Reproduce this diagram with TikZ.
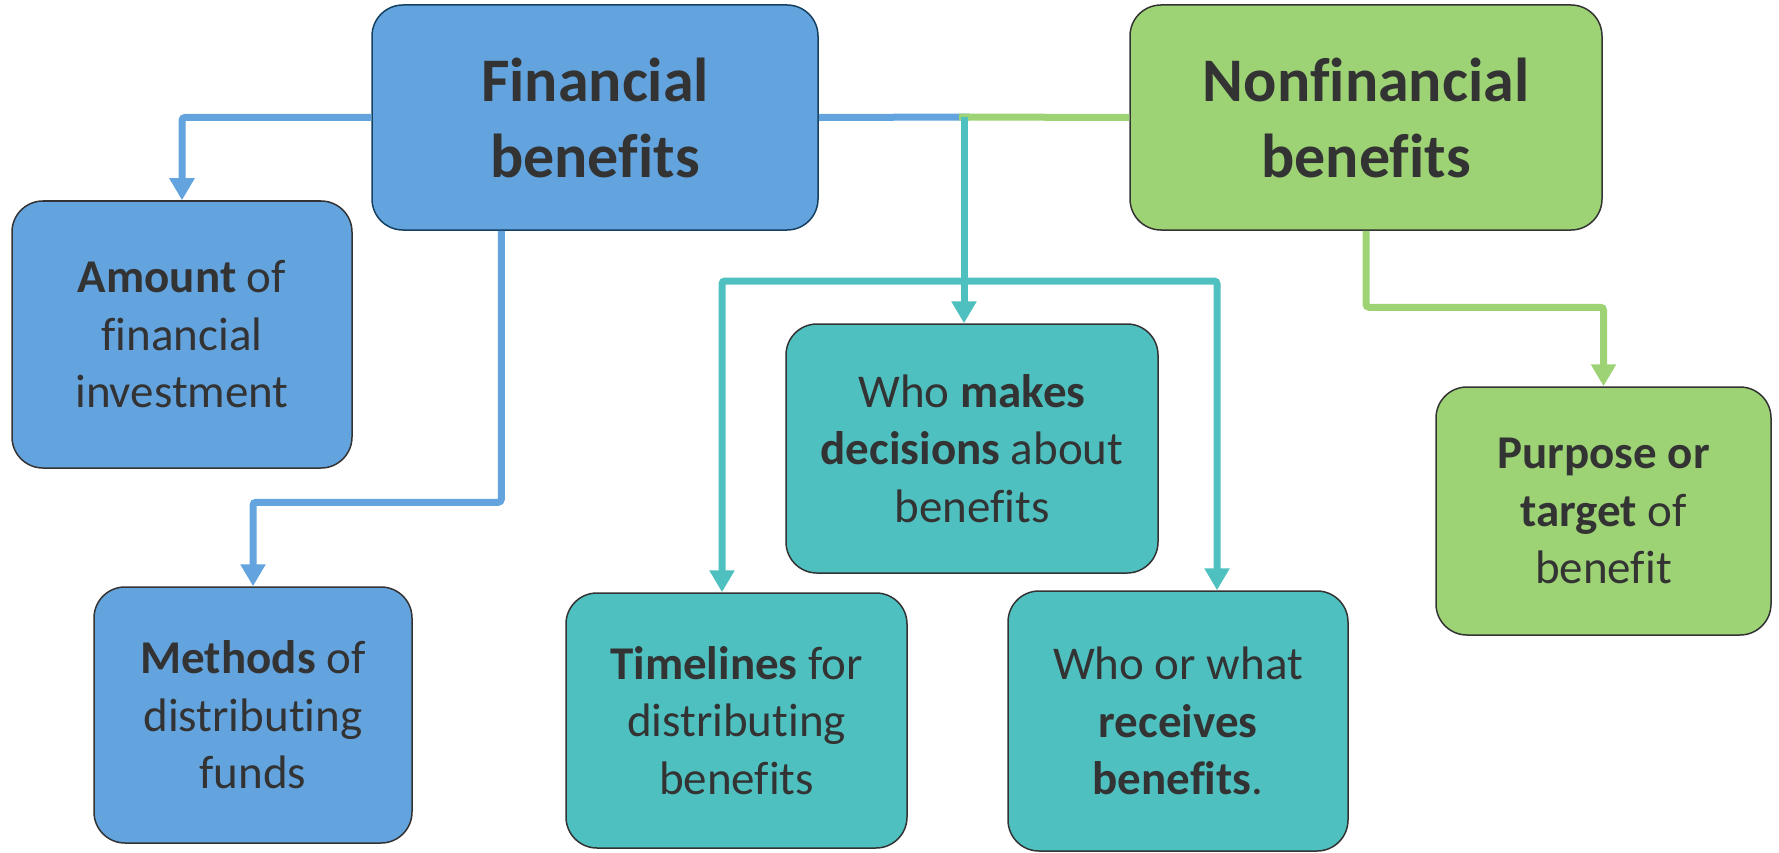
\documentclass[tikz,border=0pt]{standalone}
\usepackage{fontspec}
\setmainfont[Ligatures=NoCommon]{Carlito}
\usetikzlibrary{arrows.meta}

\definecolor{finblue}{RGB}{99,164,223}
\definecolor{nonfingreen}{RGB}{157,211,117}
\definecolor{shared}{RGB}{79,192,192}
\definecolor{ink}{RGB}{51,51,51}
\definecolor{navy}{RGB}{22,64,96}

\begin{document}
\begin{tikzpicture}[
    x=1pt, y=-1pt,
    box/.style={draw=ink, line width=1.5pt, rounded corners=31pt, align=center,
      text=ink, inner sep=0, font=\fontsize{47}{57.5}\selectfont},
    headbox/.style={box, font=\fontsize{62}{76}\selectfont\bfseries},
    link/.style={line width=7pt, rounded corners=3pt},
    tip/.style={-{Triangle[width=24pt, length=22pt]}},
  ]
  \useasboundingbox (0,0) rectangle (1779,853);

  % The two kinds of benefit
  \node [headbox, fill=finblue, draw=navy, minimum width=446pt, minimum height=225pt] (fin) at (595,117.5) {Financial\\benefits};
  \node [headbox, fill=nonfingreen, minimum width=472pt, minimum height=225pt] (nonfin) at (1366,117.5) {Nonfinancial\\benefits};

  % What each one is made of
  \node [box, fill=finblue, minimum width=340pt, minimum height=267pt] (amount) at (182,334.5) {\textbf{Amount} of\\financial\\investment};
  \node [box, fill=finblue, minimum width=318pt, minimum height=256pt] (methods) at (253,715) {\textbf{Methods} of\\distributing\\funds};
  \node [box, fill=shared, minimum width=372pt, minimum height=249pt] (makes) at (972,448.5) {Who \textbf{makes}\\\textbf{decisions} about\\benefits};
  \node [box, fill=shared, minimum width=341pt, minimum height=255pt] (timelines) at (736.5,720.5) {\textbf{Timelines} for\\distributing\\benefits};
  \node [box, fill=shared, minimum width=340pt, minimum height=260pt] (receives) at (1178,721) {Who or what\\\textbf{receives}\\\textbf{benefits}.};
  \node [box, fill=nonfingreen, minimum width=335pt, minimum height=248pt] (purpose) at (1603.5,511) {\textbf{Purpose or}\\\textbf{target} of\\benefit};

  \coordinate (hub) at (964,117);
  \coordinate (forkL) at (722,281);
  \coordinate (forkR) at (1217,281);

  % Financial links
  \draw [link, tip, color=finblue] (fin.west) -| (amount.north);
  \draw [link, tip, color=finblue] ([xshift=130pt]fin.south west) |- ([yshift=84pt]methods.north) -- (methods.north);
  \draw [link, color=finblue] (fin.east) -- ([xshift=5pt]hub);

  % Nonfinancial links
  \draw [link, color=nonfingreen] (nonfin.west) -- ([xshift=-5pt]hub);
  \draw [link, tip, color=nonfingreen] (nonfin.south) |- ([yshift=79pt]purpose.north) -- (purpose.north);

  % Shared by both
  \draw [link, tip, color=shared] (hub) -- (hub |- makes.north);
  \draw [link, color=shared, {Triangle[width=24pt, length=22pt]}-{Triangle[width=24pt, length=22pt]}] (forkL |- timelines.north) |- (forkR) -- (forkR |- receives.north);
\end{tikzpicture}
\end{document}
